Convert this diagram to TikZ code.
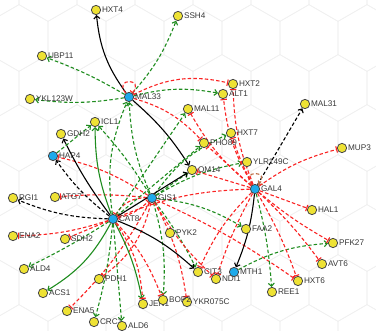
\documentclass[tikz,border=0pt]{standalone}
\usepackage{fontspec}
\setmainfont{Liberation Sans}
\usetikzlibrary{arrows.meta, backgrounds}

\definecolor{actgreen}{RGB}{30,140,30}
\definecolor{inhred}{RGB}{250,35,35}
\definecolor{geneyellow}{RGB}{238,226,52}
\definecolor{tfblue}{RGB}{30,170,235}
\definecolor{nodeline}{RGB}{70,70,70}
\definecolor{labelgray}{RGB}{55,55,55}
\definecolor{loopbrown}{RGB}{190,110,70}

\begin{document}
\begin{tikzpicture}[x=1pt, y=1pt,
    gene/.style={circle, draw=nodeline, fill=geneyellow, line width=0.8pt, minimum size=9.3pt, inner sep=0pt, label distance=1pt, label={[lbl]0:#1}},
    tf/.style={gene=#1, fill=tfblue},
    lbl/.style={font=\fontsize{8.2}{9}\selectfont, text=labelgray, inner sep=0.8pt},
    act/.style={actgreen, line width=1.1pt, dash pattern=on 3.5pt off 2.2pt, -{Straight Barb[length=3pt,width=6pt]}},
    acts/.style={actgreen, line width=1.1pt, -{Straight Barb[length=3pt,width=6pt]}},
    inh/.style={inhred, line width=1.1pt, dash pattern=on 3.5pt off 2.2pt, -{Bar[width=6.5pt]}},
    reg/.style={black, line width=1.1pt, -{Straight Barb[length=3pt,width=6pt]}},
    regd/.style={reg, dash pattern=on 3.5pt off 2.2pt},
    selfreg/.style={loopbrown, line width=1.1pt, dash pattern=on 3.5pt off 2.2pt, -{Straight Barb[length=3pt,width=6pt]}},
    hexline/.style={black!6, line width=0.6pt}
]
\useasboundingbox (0,0) rectangle (376,-331);

\node[gene=HXT4] (HXT4) at (96,-10) {};
\node[gene=SSH4] (SSH4) at (178,-16) {};
\node[gene=UBP11] (UBP11) at (42,-56) {};
\node[gene=YKL123W] (YKL123W) at (30,-99) {};
\node[tf=MAL33] (MAL33) at (129,-97) {};
\node[gene=HXT2] (HXT2) at (233,-84) {};
\node[gene=ALT1] (ALT1) at (223,-94) {};
\node[gene=MAL11] (MAL11) at (188,-109) {};
\node[gene=MAL31] (MAL31) at (305,-104) {};
\node[gene=ICL1] (ICL1) at (95,-122) {};
\node[gene=GDH2] (GDH2) at (61,-134) {};
\node[tf=HAP4] (HAP4) at (53,-156) {};
\node[gene=HXT7] (HXT7) at (231,-133) {};
\node[gene=PHO89] (PHO89) at (204,-143) {};
\node[gene=YLR149C] (YLR149C) at (247,-162) {};
\node[gene=OM14] (OM14) at (192,-170) {};
\node[gene=MUP3] (MUP3) at (342,-148) {};
\node[tf=GAL4] (GAL4) at (255,-189) {};
\node[tf=GIS1] (GIS1) at (152,-198) {};
\node[gene=RGI1] (RGI1) at (13,-198) {};
\node[gene=ATG7] (ATG7) at (55,-197) {};
\node[tf=CAT8] (CAT8) at (113,-219) {};
\node[gene=HAL1] (HAL1) at (312,-210) {};
\node[gene=ENA2] (ENA2) at (13,-236) {};
\node[gene=SDH2] (SDH2) at (65,-239) {};
\node[gene=PYK2] (PYK2) at (170,-233) {};
\node[gene=FAA2] (FAA2) at (246,-229) {};
\node[gene=PFK27] (PFK27) at (333,-243) {};
\node[gene=ALD4] (ALD4) at (24,-269) {};
\node[gene=CIT3] (CIT3) at (198,-272) {};
\node[gene=NDI1] (NDI1) at (216,-279) {};
\node[tf=MTH1] (MTH1) at (234,-272) {};
\node[gene=AVT6] (AVT6) at (322,-264) {};
\node[gene=PDH1] (PDH1) at (99,-279) {};
\node[gene=HXT6] (HXT6) at (298,-281) {};
\node[gene=REE1] (REE1) at (272,-292) {};
\node[gene=ACS1] (ACS1) at (43,-293) {};
\node[gene=JEN1] (JEN1) at (143,-304) {};
\node[gene=YKR075C] (YKR075C) at (187,-302) {};
\node[gene=BOP2] (BOP2) at (163,-300) {};
\node[gene=ENA5] (ENA5) at (67,-311) {};
\node[gene=CRC1] (CRC1) at (94,-322) {};
\node[gene=ALD6] (ALD6) at (122,-326) {};

\begin{scope}[on background layer]
\clip (0,0) rectangle (376,-331);
% faint honeycomb behind the network
\foreach \i in {0,...,7}
  \foreach \j in {0,...,7}
    \draw[hexline] ({\i*58+mod(\j,2)*29-10},{-\j*50+12}) +(30:33.5) -- +(90:33.5) -- +(150:33.5) -- +(210:33.5) -- +(270:33.5) -- +(330:33.5) -- cycle;

% MAL33
\draw[reg] (MAL33) to[bend left=15] (HXT4);
\draw[reg] (MAL33) to[bend left=8] (OM14);
\draw[act] (MAL33) to[bend right=10] (SSH4);
\draw[act] (MAL33) to[bend right=5] (UBP11);
\draw[act] (MAL33) to[bend left=8] (YKL123W);
\draw[act] (MAL33) to[bend left=12] (ALT1);
\draw[inh] (MAL33) to[bend left=20] (HXT2);
\draw[inh] (MAL33) to[bend left=15] (PHO89);
\draw[inh] (MAL33) to[out=130,in=50,loop,min distance=20pt] (MAL33);

% GIS1
\draw[act] (GIS1) to[bend left=10] (MAL33);
\draw[act] (GIS1) to[bend right=5] (ICL1);
\draw[act] (GIS1) to (OM14);
\draw[act] (GIS1) to[bend left=15] (HXT7);
\draw[act] (GIS1) to[bend left=10] (YLR149C);
\draw[act] (GIS1) to[bend left=12] (FAA2);
\draw[act] (GIS1) to[bend left=10] (BOP2);
\draw[act] (GIS1) to[bend left=5] (CIT3);
\draw[inh] (GIS1) to[bend right=10] (HAP4);
\draw[inh] (GIS1) to[bend right=5] (ATG7);
\draw[inh] (GIS1) to[bend right=30] (CAT8);
\draw[inh] (GIS1) to[bend left=20] (PDH1);
\draw[inh] (GIS1) to[bend left=8] (ENA5);
\draw[inh] (GIS1) to[bend left=10] (YKR075C);
\draw[inh] (GIS1) to[bend right=8] (NDI1);
\draw[inh] (GIS1) to[bend left=5] (HXT6);

% CAT8
\draw[act] (CAT8) to[bend left=15] (MAL33);
\draw[act] (CAT8) to (MAL11);
\draw[act] (CAT8) to (PHO89);
\draw[acts] (CAT8) to[bend left=10] (ICL1);
\draw[act] (CAT8) to[bend left=3] (ALD4);
\draw[acts] (CAT8) to[bend left=15] (ACS1);
\draw[act] (CAT8) to[bend left=5] (CRC1);
\draw[act] (CAT8) to (ALD6);
\draw[acts] (CAT8) to[bend left=8] (JEN1);
\draw[reg] (CAT8) to[bend left=5] (GDH2);
\draw[reg] (CAT8) to[bend left=10] (CIT3);
\draw[reg] (CAT8) to (OM14);
\draw[regd] (CAT8) to[bend left=8] (HAP4);
\draw[regd] (CAT8) to[bend left=10] (RGI1);
\draw[inh] (CAT8) to[bend left=8] (ENA2);
\draw[inh] (CAT8) to (SDH2);
\draw[inh] (CAT8) to[bend left=15] (JEN1);
\draw[inh] (CAT8) to[bend left=10] (BOP2);
\draw[inh] (CAT8) to[bend right=15] (GIS1);
\draw[act] (HAP4) to (ICL1);

% GAL4
\draw[regd] (GAL4) to (MAL31);
\draw[reg] (GAL4) to[bend left=8] (MTH1);
\draw[act] (GAL4) to[bend left=5] (REE1);
\draw[act] (MTH1) to[bend left=12] (PFK27);
\draw[selfreg] (GAL4) to[out=130,in=50,loop,min distance=20pt] (GAL4);
\draw[inh] (GAL4) to[bend left=10] (MUP3);
\draw[inh] (GAL4) to (HAL1);
\draw[inh] (GAL4) to[bend right=5] (PFK27);
\draw[inh] (GAL4) to[bend left=5] (AVT6);
\draw[inh] (GAL4) to[bend left=5] (HXT6);
\draw[inh] (GAL4) to[bend right=10] (CIT3);
\draw[inh] (GAL4) to[bend right=5] (NDI1);
\draw[inh] (GAL4) to[bend left=10] (HXT2);
\draw[inh] (GAL4) to[bend left=12] (ALT1);
\draw[inh] (GAL4) to[bend left=10] (MAL11);
\draw[inh] (GAL4) to (PHO89);
\draw[inh] (GAL4) to[bend left=5] (HXT7);
\draw[inh] (GAL4) to[bend right=10] (CAT8);
\draw[inh] (GAL4) to (OM14);
\end{scope}
\end{tikzpicture}
\end{document}
